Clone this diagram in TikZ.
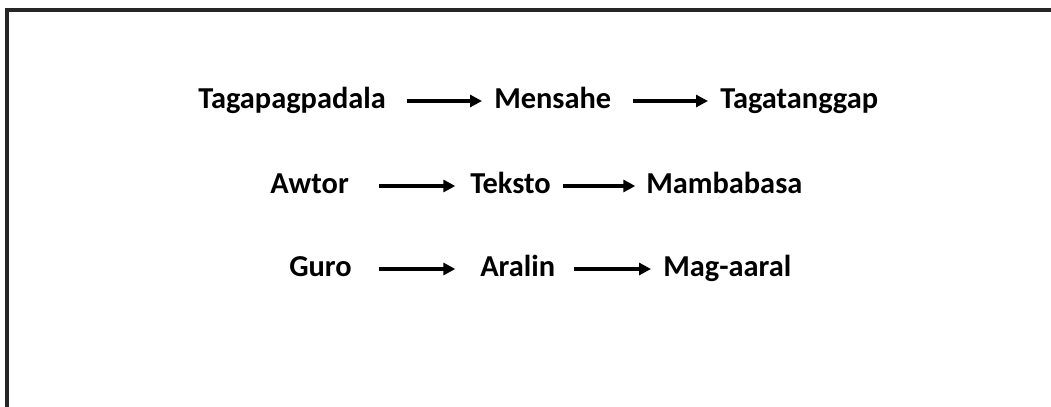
\documentclass[tikz,border=0pt]{standalone}
\usepackage{fontspec}
\setmainfont{Carlito}
\usetikzlibrary{arrows.meta}
\begin{document}
\begin{tikzpicture}[x=0.75pt,y=-0.75pt,
  term/.style={anchor=base west,inner sep=0pt,text height=10.5pt,text depth=0pt,
    font=\fontsize{22.8}{26}\selectfont\bfseries},
  flow/.style={line width=2.6pt,-{Triangle[length=9pt,width=9pt]}},
  frame/.style={line width=2.4pt,draw=black!85}]
\useasboundingbox (0,0) rectangle (1051,407);
% open frame: top and left edges only
\coordinate (tl) at (7,10);
\coordinate (tr) at (1051,10);
\coordinate (bl) at (7,407);
\draw[frame] (tr) -- (tl) -- (bl);
% row 1
\node[term] (s1) at (198,108) {Tagapagpadala};
\node[term] (m1) at (494,108) {Mensahe};
\node[term] (r1) at (720,108) {Tagatanggap};
% row 2
\node[term] (s2) at (270,193) {Awtor};
\node[term] (m2) at (470,193) {Teksto};
\node[term] (r2) at (646,193) {Mambabasa};
% row 3
\node[term] (s3) at (289,276) {Guro};
\node[term] (m3) at (480,276) {Aralin};
\node[term] (r3) at (663,276) {Mag-aaral};
% arrows
\draw[flow,shorten <=15.5pt,shorten >=9pt] (s1.east) -- (m1.west);
\draw[flow,shorten <=16.5pt,shorten >=9pt] (m1.east) -- (r1.west);
\draw[flow,shorten <=22.5pt,shorten >=11pt] (s2.east) -- (m2.west);
\draw[flow,shorten <=9pt,shorten >=8pt] (m2.east) -- (r2.west);
\draw[flow,shorten <=20pt,shorten >=18.5pt] (s3.east) -- (m3.west);
\draw[flow,shorten <=14pt,shorten >=9pt] (m3.east) -- (r3.west);
\end{tikzpicture}
\end{document}
